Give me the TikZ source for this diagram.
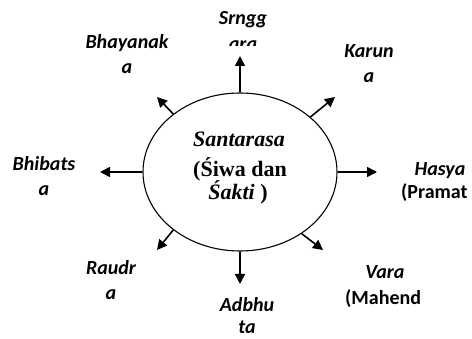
\documentclass[tikz,border=0pt]{standalone}
\usepackage{fontspec}
\setmainfont{Liberation Serif}
\newfontfamily\labfont{Carlito}
\usetikzlibrary{shapes.geometric,arrows.meta}
\begin{document}
\begin{tikzpicture}[x=1pt,y=-1pt,
  lab/.style={font=\labfont\fontsize{20}{24}\selectfont\bfseries\itshape, inner sep=0pt, anchor=base},
  labup/.style={font=\labfont\fontsize{20}{24}\selectfont\bfseries, inner sep=0pt, anchor=base west},
  ctr/.style={font=\fontsize{22}{26}\selectfont\bfseries, inner sep=0pt, anchor=base},
  arr/.style={line width=1.6pt, -{Triangle[length=10pt,width=10pt]}}]
\useasboundingbox (0,0) rectangle (472,339);
\node[draw, line width=1.1pt, ellipse, minimum width=194pt, minimum height=158pt, inner sep=0pt] (c) at (240,172) {};
% centre text
\node[ctr] (s1) at (239,147) {\itshape Santarasa};
\node[ctr] (s2) at (240,177) {(Śiwa dan};
\node[ctr] (s3) at (238,200) {\itshape Śakti\/ \upshape)};
% arrow tips
\coordinate (tT) at (240,56);
\coordinate (tB) at (240,284);
\coordinate (tL) at (100,172);
\coordinate (tR) at (377,172);
\coordinate (tUL) at (157,97);
\coordinate (tUR) at (335,97);
\coordinate (tLL) at (157,250);
\coordinate (tLR) at (323,250);
\draw[arr] (c.north) -- (tT);
\draw[arr] (c.south) -- (tB);
\draw[arr] (c.west) -- (tL);
\draw[arr] (c.east) -- (tR);
\draw[arr] (c.139) -- (tUL);
\draw[arr] (c.38) -- (tUR);
\draw[arr] (c.221) -- (tLL);
\draw[arr] (c.-45) -- (tLR);
% labels
\node[lab] (sr1) at (243,25) {Srngg};
\begin{scope}
\clip (0,0) rectangle (472,45.5);
\node[lab] (sr2) at (243,51) {ara};
\end{scope}
\node[lab] (bh1) at (127,49) {Bhayanak};
\node[lab] (bh2) at (127,74) {a};
\node[lab] (ka1) at (369,58) {Karun};
\node[lab] (ka2) at (369,83) {a};
\node[lab] (bi1) at (44,171) {Bhibats};
\node[lab] (bi2) at (44,196) {a};
\node[lab] (ha1) at (440,176) {Hasya};
\node[labup] (ha2) at (401,199) {(Pramat};
\node[lab] (ra1) at (111,275) {Raudr};
\node[lab] (ra2) at (111,300) {a};
\node[lab] (ad1) at (247,312) {Adbhu};
\node[lab] (ad2) at (247,334) {ta};
\node[lab] (va1) at (385,279) {Vara};
\node[labup] (va2) at (345,305) {(Mahend};
\end{tikzpicture}
\end{document}
